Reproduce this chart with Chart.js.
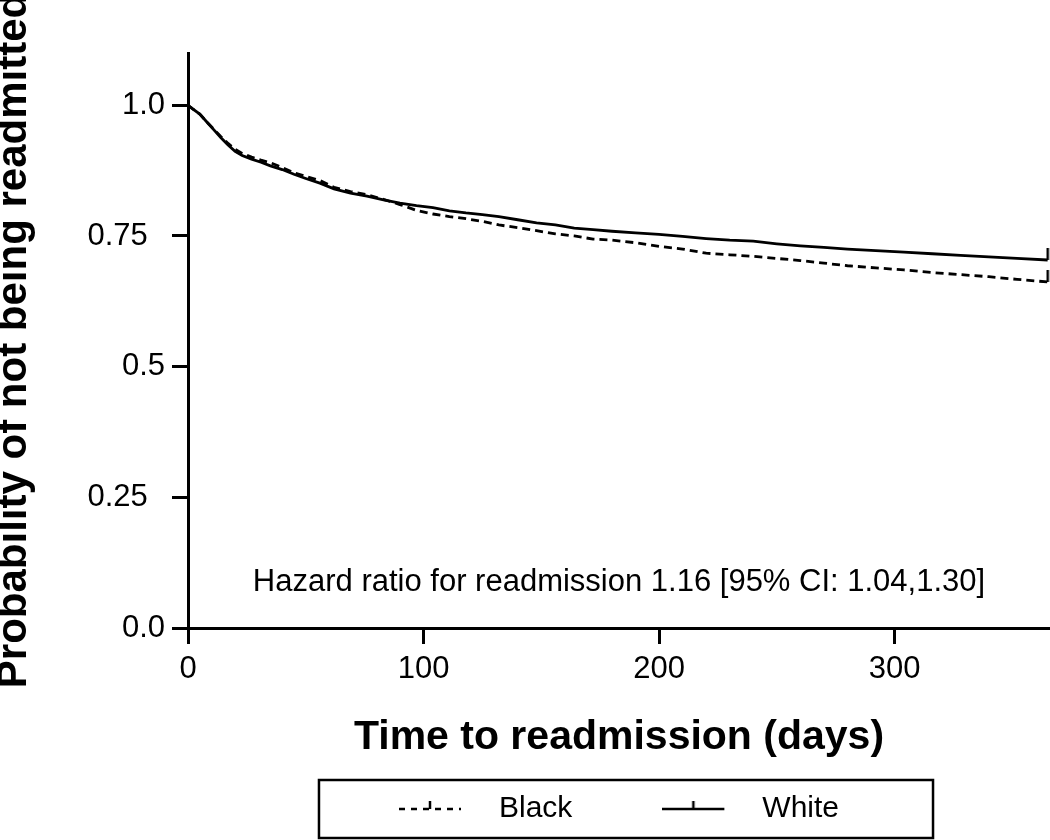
<!DOCTYPE html>
<html>
<head>
<meta charset="utf-8">
<script src="https://cdn.jsdelivr.net/npm/chart.js@4.4.1/dist/chart.umd.min.js"></script>
<style>
  body { margin: 0; background: #fff; }
  #wrap { width: 1050px; height: 840px; }
</style>
</head>
<body>
<div id="wrap"><canvas id="km"></canvas></div>
<script>
const days = [0, 2, 5, 8, 11, 14, 17, 20, 23, 27, 31, 35, 40, 45, 50, 56, 62, 69, 76, 83,
  90, 97, 104, 111, 118, 125, 132, 140, 148, 156, 164, 172, 180, 190, 200, 210, 220, 230,
  240, 250, 260, 270, 280, 292, 304, 316, 328, 340, 352, 365];

const black = [1.000, 0.993, 0.983, 0.968, 0.954, 0.940, 0.927, 0.916, 0.908, 0.901, 0.895,
  0.890, 0.881, 0.871, 0.864, 0.856, 0.843, 0.835, 0.829, 0.820, 0.810, 0.799, 0.792, 0.787,
  0.783, 0.778, 0.771, 0.766, 0.760, 0.754, 0.750, 0.744, 0.742, 0.737, 0.730, 0.725, 0.717,
  0.714, 0.711, 0.707, 0.703, 0.698, 0.693, 0.689, 0.685, 0.680, 0.676, 0.672, 0.667, 0.662];

const white = [1.000, 0.993, 0.983, 0.968, 0.953, 0.938, 0.924, 0.912, 0.904, 0.897, 0.891,
  0.884, 0.877, 0.868, 0.860, 0.851, 0.840, 0.832, 0.826, 0.819, 0.813, 0.808, 0.804, 0.798,
  0.794, 0.791, 0.787, 0.781, 0.775, 0.771, 0.765, 0.762, 0.759, 0.756, 0.753, 0.749, 0.745,
  0.742, 0.740, 0.735, 0.731, 0.728, 0.725, 0.722, 0.719, 0.716, 0.713, 0.710, 0.707, 0.704];

const groups = ['Black', 'White'];
const xTicks = [0, 100, 200, 300];
const yTicks = [0, 0.25, 0.5, 0.75, 1.0];
const yTickLabels = ['0.0', '0.25  ', '0.5', '0.75  ', '1.0'];
const hazardText = 'Hazard ratio for readmission 1.16 [95% CI: 1.04,1.30]';

const FONT = "'Liberation Sans', Arial, sans-serif";
Chart.defaults.font.family = FONT;
Chart.defaults.color = '#000';

// small vertical censor mark, sits on top of the line
function censorTick() {
  const c = document.createElement('canvas');
  c.width = 4; c.height = 28;
  const g = c.getContext('2d');
  g.strokeStyle = '#000';
  g.lineWidth = 2.5;
  g.beginPath(); g.moveTo(2, 2); g.lineTo(2, 14); g.stroke();
  return c;
}

// legend sample: line + censor mark in the middle
function legendSample(dashed) {
  const c = document.createElement('canvas');
  c.width = 85; c.height = 24;
  const g = c.getContext('2d');
  g.strokeStyle = '#000';
  g.lineWidth = 2.5;
  if (dashed) g.setLineDash([6, 6]);
  g.beginPath(); g.moveTo(0, 12); g.lineTo(62, 12); g.stroke();
  g.setLineDash([]);
  g.beginPath(); g.moveTo(31, 12); g.lineTo(31, 4); g.stroke();
  return c;
}

const tick = censorTick();
const legendImgs = [legendSample(true), legendSample(false)];
const lastIdx = days.length - 1;

function series(vals) {
  return days.map((d, i) => ({ x: d, y: vals[i] }));
}

const yTitlePlugin = {
  id: 'yTitle',
  afterDraw(chart) {
    const { ctx, chartArea } = chart;
    ctx.save();
    ctx.translate(14, (chartArea.top + chartArea.bottom) / 2);
    ctx.rotate(-Math.PI / 2);
    ctx.font = 'bold 42px ' + FONT;
    ctx.fillStyle = '#000';
    ctx.textAlign = 'center';
    ctx.textBaseline = 'middle';
    ctx.fillText('Probability of not being readmitted', 0, 0);
    ctx.restore();
  }
};

const hazardPlugin = {
  id: 'hazard',
  afterDatasetsDraw(chart, args, opts) {
    const { ctx, scales } = chart;
    ctx.save();
    ctx.font = '31px ' + FONT;
    ctx.fillStyle = '#000';
    ctx.textAlign = 'center';
    ctx.textBaseline = 'middle';
    ctx.fillText(opts.text, scales.x.getPixelForValue(opts.x), scales.y.getPixelForValue(opts.y));
    ctx.restore();
  }
};

const legendBoxPlugin = {
  id: 'legendBox',
  afterDraw(chart) {
    const hb = chart.legend.legendHitBoxes;
    if (!hb || !hb.length) return;
    const first = hb[0], last = hb[hb.length - 1];
    const cy = first.top + first.height / 2;
    const ctx = chart.ctx;
    ctx.save();
    ctx.strokeStyle = '#000';
    ctx.lineWidth = 2.5;
    ctx.strokeRect(first.left - 80, cy - 29, last.left + last.width + 94 - (first.left - 80), 58);
    ctx.restore();
  }
};

new Chart(document.getElementById('km'), {
  type: 'line',
  data: {
    datasets: [
      {
        label: groups[0],
        data: series(black),
        borderColor: '#000',
        borderWidth: 2.8,
        borderDash: [8, 5],
        tension: 0,
        fill: false,
        pointStyle: tick,
        pointRadius: ctx => ctx.dataIndex === lastIdx ? 6 : 0,
        pointHoverRadius: 0
      },
      {
        label: groups[1],
        data: series(white),
        borderColor: '#000',
        borderWidth: 2.8,
        tension: 0,
        fill: false,
        pointStyle: tick,
        pointRadius: ctx => ctx.dataIndex === lastIdx ? 6 : 0,
        pointHoverRadius: 0
      }
    ]
  },
  options: {
    responsive: true,
    maintainAspectRatio: false,
    animation: false,
    events: [],
    layout: { autoPadding: false, padding: { top: 53, right: 0, bottom: 6, left: 0 } },
    scales: {
      x: {
        type: 'linear',
        min: 0,
        max: 366,
        afterBuildTicks: s => { s.ticks = xTicks.map(v => ({ value: v })); },
        afterFit: s => { s.height = 76; },
        border: { color: '#000', width: 3 },
        grid: { drawOnChartArea: false, tickLength: 16, tickWidth: 3, tickColor: '#000' },
        ticks: { color: '#000', font: { size: 31 }, padding: 7, maxRotation: 0 },
        title: {
          display: true,
          text: 'Time to readmission (days)',
          color: '#000',
          font: { size: 41, weight: 'bold', lineHeight: 1 },
          padding: { top: 0, bottom: -54 }
        }
      },
      y: {
        min: 0,
        max: 1.1,
        afterBuildTicks: s => { s.ticks = yTicks.map(v => ({ value: v })); },
        afterFit: s => { s.width = 188; },
        border: { color: '#000', width: 3 },
        grid: { drawOnChartArea: false, tickLength: 16, tickWidth: 3, tickColor: '#000' },
        ticks: {
          color: '#000',
          font: { size: 31 },
          padding: 7,
          callback: v => yTickLabels[yTicks.indexOf(v)]
        }
      }
    },
    plugins: {
      tooltip: { enabled: false },
      legend: {
        position: 'bottom',
        fullSize: false,
        labels: {
          usePointStyle: true,
          pointStyleWidth: 85,
          padding: 90,
          color: '#000',
          font: { size: 30 },
          generateLabels: chart => chart.data.datasets.map((ds, i) => ({
            text: ds.label,
            pointStyle: legendImgs[i],
            fillStyle: '#000',
            strokeStyle: '#000',
            lineWidth: 0,
            hidden: false,
            datasetIndex: i
          }))
        }
      },
      hazard: { text: hazardText, x: 183, y: 0.088 }
    }
  },
  plugins: [hazardPlugin, yTitlePlugin, legendBoxPlugin]
});
</script>
</body>
</html>
